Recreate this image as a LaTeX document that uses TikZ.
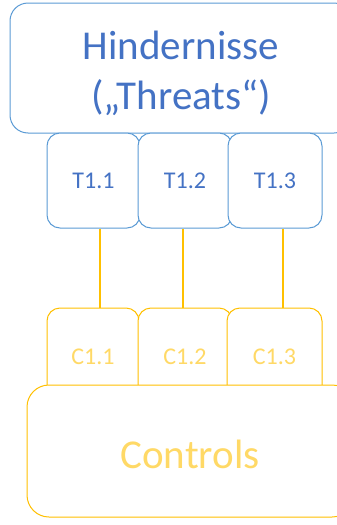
\documentclass[tikz,border=0pt]{standalone}
\usepackage{fontspec}
\setmainfont{Carlito}
\definecolor{threatline}{HTML}{5B9BD5}
\definecolor{threattext}{HTML}{4472C4}
\definecolor{ctrlline}{HTML}{FFC000}
\definecolor{ctrltext}{HTML}{FFD966}
\tikzset{
  threatbox/.style={draw=threatline, line width=1pt, fill=white, rounded corners=13pt,
    inner sep=0pt, text=threattext, align=center},
  ctrlbox/.style={draw=ctrlline, line width=1pt, fill=white, rounded corners=13pt,
    inner sep=0pt, text=ctrltext, align=center},
  bigtext/.style={font=\fontsize{41}{50}\selectfont},
  smalltext/.style={font=\fontsize{24}{28}\selectfont},
  link/.style={draw=ctrlline, line width=2.6pt}
}
\begin{document}
\begin{tikzpicture}[x=1pt, y=-1pt]
  \useasboundingbox (0,0) rectangle (337,525);
  \clip (0,0) rectangle (337,525);

  % threat group
  \node[threatbox, rounded corners=18pt, minimum width=342pt, minimum height=130pt]
    (threats) at (181,68) {};
  \node[text=threattext, bigtext, align=center, inner sep=0pt] (threatslabel) at (181,73)
    {Hindernisse\\(„Threats“)};
  \node[threatbox, smalltext, minimum width=93pt, minimum height=95pt] (t1) at (93.5,180.5) {T1.1};
  \node[threatbox, smalltext, minimum width=94pt, minimum height=95pt] (t2) at (185,180.5) {T1.2};
  \node[threatbox, smalltext, minimum width=94pt, minimum height=95pt] (t3) at (275,180.5) {T1.3};

  % control group
  \node[ctrlbox, smalltext, minimum width=92pt, minimum height=98pt] (c1) at (93,357) {C1.1};
  \node[ctrlbox, smalltext, minimum width=94pt, minimum height=98pt] (c2) at (185,357) {C1.2};
  \node[ctrlbox, smalltext, minimum width=95pt, minimum height=98pt] (c3) at (274.5,357) {C1.3};
  \node[ctrlbox, rounded corners=22pt, minimum width=327pt, minimum height=132pt]
    (controls) at (190.5,451) {};
  \node[text=ctrltext, bigtext, inner sep=0pt] (controlslabel) at (190,454) {Controls};

  % links between threats and controls
  \draw[link] ([xshift=6.5pt]t1.south) -- ([xshift=7pt]c1.north);
  \draw[link] ([xshift=-2pt]t2.south) -- ([xshift=-2pt]c2.north);
  \draw[link] ([xshift=8pt]t3.south) -- ([xshift=8.5pt]c3.north);
\end{tikzpicture}
\end{document}
